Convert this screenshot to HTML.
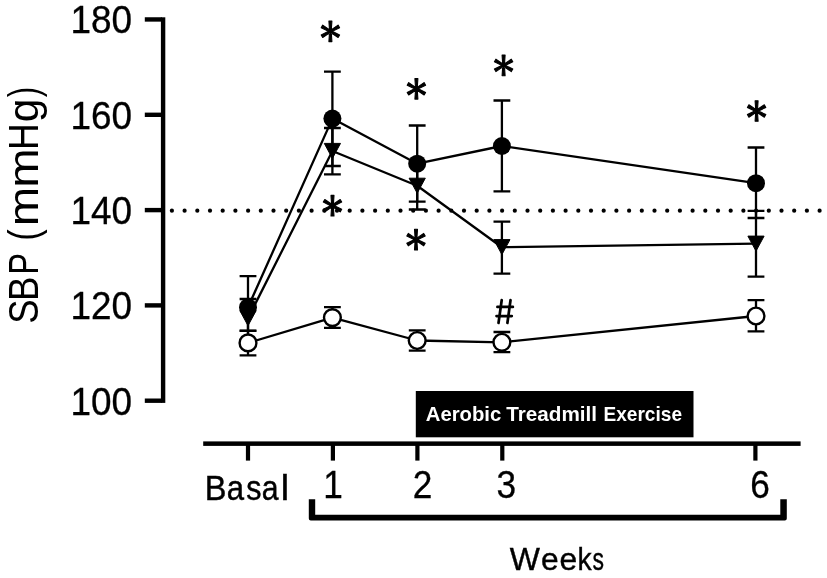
<!DOCTYPE html>
<html><head><meta charset="utf-8"><title>SBP chart</title>
<style>html,body{margin:0;padding:0;background:#fff;}body{width:827px;height:578px;overflow:hidden;font-family:"Liberation Sans",sans-serif;}svg{display:block;will-change:transform;filter:grayscale(1);}</style>
</head><body>
<svg width="827" height="578" viewBox="0 0 827 578">
<rect x="160.9" y="17.3" width="4.4" height="385.6" fill="#000"/>
<rect x="144.8" y="17.25" width="17" height="4.4" fill="#000"/>
<rect x="144.8" y="112.60" width="17" height="4.4" fill="#000"/>
<rect x="144.8" y="207.90" width="17" height="4.4" fill="#000"/>
<rect x="144.8" y="303.20" width="17" height="4.4" fill="#000"/>
<rect x="144.8" y="398.50" width="17" height="4.4" fill="#000"/>
<rect x="203.2" y="441.4" width="597.4" height="4.5" fill="#000"/>
<rect x="245.9" y="443" width="4.2" height="17.6" fill="#000"/>
<rect x="330.8" y="443" width="4.2" height="17.6" fill="#000"/>
<rect x="415.3" y="443" width="4.2" height="17.6" fill="#000"/>
<rect x="500.2" y="443" width="4.2" height="17.6" fill="#000"/>
<rect x="753.3" y="443" width="4.2" height="17.6" fill="#000"/>
<g fill="#000"><circle cx="171.9" cy="210.7" r="2.1"/><circle cx="184.6" cy="210.7" r="2.1"/><circle cx="197.3" cy="210.7" r="2.1"/><circle cx="210.0" cy="210.7" r="2.1"/><circle cx="222.7" cy="210.7" r="2.1"/><circle cx="235.4" cy="210.7" r="2.1"/><circle cx="248.1" cy="210.7" r="2.1"/><circle cx="260.8" cy="210.7" r="2.1"/><circle cx="273.5" cy="210.7" r="2.1"/><circle cx="286.2" cy="210.7" r="2.1"/><circle cx="298.9" cy="210.7" r="2.1"/><circle cx="311.6" cy="210.7" r="2.1"/><circle cx="324.3" cy="210.7" r="2.1"/><circle cx="337.0" cy="210.7" r="2.1"/><circle cx="349.7" cy="210.7" r="2.1"/><circle cx="362.4" cy="210.7" r="2.1"/><circle cx="375.1" cy="210.7" r="2.1"/><circle cx="387.8" cy="210.7" r="2.1"/><circle cx="400.5" cy="210.7" r="2.1"/><circle cx="413.2" cy="210.7" r="2.1"/><circle cx="425.9" cy="210.7" r="2.1"/><circle cx="438.6" cy="210.7" r="2.1"/><circle cx="451.3" cy="210.7" r="2.1"/><circle cx="464.0" cy="210.7" r="2.1"/><circle cx="476.7" cy="210.7" r="2.1"/><circle cx="489.4" cy="210.7" r="2.1"/><circle cx="502.1" cy="210.7" r="2.1"/><circle cx="514.8" cy="210.7" r="2.1"/><circle cx="527.5" cy="210.7" r="2.1"/><circle cx="540.2" cy="210.7" r="2.1"/><circle cx="552.9" cy="210.7" r="2.1"/><circle cx="565.6" cy="210.7" r="2.1"/><circle cx="578.3" cy="210.7" r="2.1"/><circle cx="591.0" cy="210.7" r="2.1"/><circle cx="603.7" cy="210.7" r="2.1"/><circle cx="616.4" cy="210.7" r="2.1"/><circle cx="629.1" cy="210.7" r="2.1"/><circle cx="641.8" cy="210.7" r="2.1"/><circle cx="654.5" cy="210.7" r="2.1"/><circle cx="667.2" cy="210.7" r="2.1"/><circle cx="679.9" cy="210.7" r="2.1"/><circle cx="692.6" cy="210.7" r="2.1"/><circle cx="705.3" cy="210.7" r="2.1"/><circle cx="718.0" cy="210.7" r="2.1"/><circle cx="730.7" cy="210.7" r="2.1"/><circle cx="743.4" cy="210.7" r="2.1"/><circle cx="756.1" cy="210.7" r="2.1"/><circle cx="768.8" cy="210.7" r="2.1"/><circle cx="781.5" cy="210.7" r="2.1"/><circle cx="794.2" cy="210.7" r="2.1"/><circle cx="806.9" cy="210.7" r="2.1"/><circle cx="819.6" cy="210.7" r="2.1"/></g>
<path d="M248.0 299.0V330.7M239.6 299.0H256.4M239.6 330.7H256.4" stroke="#000" stroke-width="2.3" fill="none"/>
<path d="M332.4 128.0V174.3M324.0 128.0H340.8M324.0 174.3H340.8" stroke="#000" stroke-width="2.3" fill="none"/>
<path d="M417.2 162.0V209.5M408.8 162.0H425.6M408.8 209.5H425.6" stroke="#000" stroke-width="2.3" fill="none"/>
<path d="M501.9 221.6V273.6M493.5 221.6H510.3M493.5 273.6H510.3" stroke="#000" stroke-width="2.3" fill="none"/>
<path d="M756.0 210.8V276.7M747.6 210.8H764.4M747.6 276.7H764.4" stroke="#000" stroke-width="2.3" fill="none"/>
<polyline points="248.0,318.3 332.4,151.0 417.2,185.8 501.9,247.2 756.0,243.7" stroke="#000" stroke-width="2.3" fill="none" stroke-linejoin="round"/>
<path d="M239.9 310.7H256.1L248.0 325.7Z" fill="#000" stroke="#000" stroke-width="1" stroke-linejoin="round"/>
<path d="M324.3 143.4H340.5L332.4 158.4Z" fill="#000" stroke="#000" stroke-width="1" stroke-linejoin="round"/>
<path d="M409.1 178.2H425.3L417.2 193.2Z" fill="#000" stroke="#000" stroke-width="1" stroke-linejoin="round"/>
<path d="M493.8 239.6H510.0L501.9 254.6Z" fill="#000" stroke="#000" stroke-width="1" stroke-linejoin="round"/>
<path d="M747.9 236.1H764.1L756.0 251.1Z" fill="#000" stroke="#000" stroke-width="1" stroke-linejoin="round"/>
<path d="M248.0 276.2V340.8M239.6 276.2H256.4M239.6 340.8H256.4" stroke="#000" stroke-width="2.3" fill="none"/>
<path d="M332.4 71.7V166.0M324.0 71.7H340.8M324.0 166.0H340.8" stroke="#000" stroke-width="2.3" fill="none"/>
<path d="M417.2 125.5V201.7M408.8 125.5H425.6M408.8 201.7H425.6" stroke="#000" stroke-width="2.3" fill="none"/>
<path d="M501.9 100.5V191.3M493.5 100.5H510.3M493.5 191.3H510.3" stroke="#000" stroke-width="2.3" fill="none"/>
<path d="M756.0 147.5V218.0M747.6 147.5H764.4M747.6 218.0H764.4" stroke="#000" stroke-width="2.3" fill="none"/>
<polyline points="248.0,307.3 332.4,118.6 417.2,163.7 501.9,146.0 756.0,183.2" stroke="#000" stroke-width="2.3" fill="none" stroke-linejoin="round"/>
<circle cx="248.0" cy="307.3" r="9.0" fill="#000"/>
<circle cx="332.4" cy="118.6" r="9.0" fill="#000"/>
<circle cx="417.2" cy="163.7" r="9.0" fill="#000"/>
<circle cx="501.9" cy="146.0" r="9.0" fill="#000"/>
<circle cx="756.0" cy="183.2" r="9.0" fill="#000"/>
<path d="M248.0 330.9V355.3M239.6 330.9H256.4M239.6 355.3H256.4" stroke="#000" stroke-width="2.3" fill="none"/>
<path d="M332.4 307.2V327.8M324.0 307.2H340.8M324.0 327.8H340.8" stroke="#000" stroke-width="2.3" fill="none"/>
<path d="M417.2 330.4V350.7M408.8 330.4H425.6M408.8 350.7H425.6" stroke="#000" stroke-width="2.3" fill="none"/>
<path d="M501.9 332.0V352.2M493.5 332.0H510.3M493.5 352.2H510.3" stroke="#000" stroke-width="2.3" fill="none"/>
<path d="M756.0 300.2V331.3M747.6 300.2H764.4M747.6 331.3H764.4" stroke="#000" stroke-width="2.3" fill="none"/>
<polyline points="248.0,342.9 332.4,317.6 417.2,340.5 501.9,342.3 756.0,316.0" stroke="#000" stroke-width="2.3" fill="none" stroke-linejoin="round"/>
<circle cx="248.0" cy="342.9" r="8.4" fill="#fff" stroke="#000" stroke-width="2.4"/>
<circle cx="332.4" cy="317.6" r="8.4" fill="#fff" stroke="#000" stroke-width="2.4"/>
<circle cx="417.2" cy="340.5" r="8.4" fill="#fff" stroke="#000" stroke-width="2.4"/>
<circle cx="501.9" cy="342.3" r="8.4" fill="#fff" stroke="#000" stroke-width="2.4"/>
<circle cx="756.0" cy="316.0" r="8.4" fill="#fff" stroke="#000" stroke-width="2.4"/>
<path d="M331.2 31.3L331.9 21.0L328.9 21.0L329.6 31.3ZM329.6 31.3L328.9 41.6L331.9 41.6L331.2 31.3ZM330.8 32.0L339.6 27.7L338.1 25.1L330.0 30.6ZM330.8 30.6L322.7 25.1L321.2 27.7L330.0 32.0ZM330.0 30.6L321.2 34.9L322.7 37.5L330.8 32.0ZM330.0 32.0L338.1 37.5L339.6 34.9L330.8 30.6Z" fill="#000" stroke="#000" stroke-width="1.1" stroke-linejoin="round"/>
<path d="M417.2 88.8L417.9 78.5L414.9 78.5L415.6 88.8ZM415.6 88.8L414.9 99.1L417.9 99.1L417.2 88.8ZM416.8 89.5L425.6 85.2L424.1 82.6L416.0 88.1ZM416.8 88.1L408.7 82.6L407.2 85.2L416.0 89.5ZM416.0 88.1L407.2 92.4L408.7 95.0L416.8 89.5ZM416.0 89.5L424.1 95.0L425.6 92.4L416.8 88.1Z" fill="#000" stroke="#000" stroke-width="1.1" stroke-linejoin="round"/>
<path d="M504.4 65.4L505.1 55.1L502.1 55.1L502.8 65.4ZM502.8 65.4L502.1 75.7L505.1 75.7L504.4 65.4ZM504.0 66.1L512.8 61.8L511.3 59.2L503.2 64.7ZM504.0 64.7L495.9 59.2L494.4 61.8L503.2 66.1ZM503.2 64.7L494.4 69.0L495.9 71.6L504.0 66.1ZM503.2 66.1L511.3 71.6L512.8 69.0L504.0 64.7Z" fill="#000" stroke="#000" stroke-width="1.1" stroke-linejoin="round"/>
<path d="M757.4 111.0L758.1 100.7L755.1 100.7L755.8 111.0ZM755.8 111.0L755.1 121.3L758.1 121.3L757.4 111.0ZM757.0 111.7L765.8 107.4L764.3 104.8L756.2 110.3ZM757.0 110.3L748.9 104.8L747.4 107.4L756.2 111.7ZM756.2 110.3L747.4 114.6L748.9 117.2L757.0 111.7ZM756.2 111.7L764.3 117.2L765.8 114.6L757.0 110.3Z" fill="#000" stroke="#000" stroke-width="1.1" stroke-linejoin="round"/>
<path d="M333.3 205.7L334.0 195.4L331.0 195.4L331.7 205.7ZM331.7 205.7L331.0 216.0L334.0 216.0L333.3 205.7ZM332.9 206.4L341.7 202.1L340.2 199.5L332.1 205.0ZM332.9 205.0L324.8 199.5L323.3 202.1L332.1 206.4ZM332.1 205.0L323.3 209.3L324.8 211.9L332.9 206.4ZM332.1 206.4L340.2 211.9L341.7 209.3L332.9 205.0Z" fill="#000" stroke="#000" stroke-width="1.1" stroke-linejoin="round"/>
<path d="M416.8 239.6L417.5 229.3L414.5 229.3L415.2 239.6ZM415.2 239.6L414.5 249.9L417.5 249.9L416.8 239.6ZM416.4 240.3L425.2 236.0L423.7 233.4L415.6 238.9ZM416.4 238.9L408.3 233.4L406.8 236.0L415.6 240.3ZM415.6 238.9L406.8 243.2L408.3 245.8L416.4 240.3ZM415.6 240.3L423.7 245.8L425.2 243.2L416.4 238.9Z" fill="#000" stroke="#000" stroke-width="1.1" stroke-linejoin="round"/>
<rect x="415.8" y="391" width="277.7" height="46.3" fill="#000"/>
<text y="421.2" font-family="Liberation Sans, sans-serif" font-weight="bold" font-size="19.7" fill="#fff"><tspan x="425.8" textLength="75.5" lengthAdjust="spacingAndGlyphs">Aerobic</tspan> <tspan x="506.3" textLength="90.8" lengthAdjust="spacingAndGlyphs">Treadmill</tspan> <tspan x="603.5" textLength="78.5" lengthAdjust="spacingAndGlyphs">Exercise</tspan></text>
<text x="132.0" y="33.4" font-family="Liberation Sans, sans-serif" font-size="38" stroke="#000" stroke-width="0.3" text-anchor="end" textLength="61.6" lengthAdjust="spacingAndGlyphs">180</text>
<text x="132.0" y="128.7" font-family="Liberation Sans, sans-serif" font-size="38" stroke="#000" stroke-width="0.3" text-anchor="end" textLength="61.6" lengthAdjust="spacingAndGlyphs">160</text>
<text x="132.0" y="224.0" font-family="Liberation Sans, sans-serif" font-size="38" stroke="#000" stroke-width="0.3" text-anchor="end" textLength="61.6" lengthAdjust="spacingAndGlyphs">140</text>
<text x="132.0" y="319.3" font-family="Liberation Sans, sans-serif" font-size="38" stroke="#000" stroke-width="0.3" text-anchor="end" textLength="61.6" lengthAdjust="spacingAndGlyphs">120</text>
<text x="132.0" y="414.6" font-family="Liberation Sans, sans-serif" font-size="38" stroke="#000" stroke-width="0.3" text-anchor="end" textLength="61.6" lengthAdjust="spacingAndGlyphs">100</text>
<g transform="translate(0 499.8)" font-family="Liberation Sans, sans-serif" font-size="35.3" stroke="#000" stroke-width="0.45"><text y="0" xml:space="preserve"><tspan x="204.83" textLength="21.68" lengthAdjust="spacingAndGlyphs">B</tspan><tspan x="226.78" textLength="17.32" lengthAdjust="spacingAndGlyphs">a</tspan><tspan x="246.35" textLength="15.25" lengthAdjust="spacingAndGlyphs">s</tspan><tspan x="261.82" textLength="16.78" lengthAdjust="spacingAndGlyphs">a</tspan><tspan x="280.67" textLength="8.34" lengthAdjust="spacingAndGlyphs">l</tspan></text></g>
<text x="333.0" y="498.3" font-family="Liberation Sans, sans-serif" font-size="38" stroke="#000" stroke-width="0.3" text-anchor="middle" textLength="19.6" lengthAdjust="spacingAndGlyphs">1</text>
<text x="422.6" y="498.3" font-family="Liberation Sans, sans-serif" font-size="38" stroke="#000" stroke-width="0.3" text-anchor="middle" textLength="19.6" lengthAdjust="spacingAndGlyphs">2</text>
<text x="506.4" y="498.3" font-family="Liberation Sans, sans-serif" font-size="38" stroke="#000" stroke-width="0.3" text-anchor="middle" textLength="19.6" lengthAdjust="spacingAndGlyphs">3</text>
<text x="760.0" y="498.3" font-family="Liberation Sans, sans-serif" font-size="38" stroke="#000" stroke-width="0.3" text-anchor="middle" textLength="19.6" lengthAdjust="spacingAndGlyphs">6</text>
<g transform="translate(0 570.4)" font-family="Liberation Sans, sans-serif" font-size="31" stroke="#000" stroke-width="0.4"><text y="0" xml:space="preserve"><tspan x="509.86" textLength="30.15" lengthAdjust="spacingAndGlyphs">W</tspan><tspan x="540.95" textLength="17.66" lengthAdjust="spacingAndGlyphs">e</tspan><tspan x="559.55" textLength="17.66" lengthAdjust="spacingAndGlyphs">e</tspan><tspan x="577.59" textLength="14.17" lengthAdjust="spacingAndGlyphs">k</tspan><tspan x="592.46" textLength="11.47" lengthAdjust="spacingAndGlyphs">s</tspan></text></g>
<path d="M501.7 300.2L498.5 323M510.5 300.2L507.4 323M497.4 306.9H512.9M496.5 316.1H511.8" stroke="#000" stroke-width="2.7" stroke-linecap="round" fill="none"/>
<g transform="translate(38 323) rotate(-90)" font-family="Liberation Sans, sans-serif" font-size="43"><text y="0" xml:space="preserve"><tspan x="-0.66" textLength="24.33" lengthAdjust="spacingAndGlyphs">S</tspan><tspan x="21.99" textLength="24.44" lengthAdjust="spacingAndGlyphs">B</tspan><tspan x="48.32" textLength="21.81" lengthAdjust="spacingAndGlyphs">P</tspan><tspan x="72.00"> </tspan><tspan x="82.27" textLength="11.43" lengthAdjust="spacingAndGlyphs">(</tspan><tspan x="96.85" textLength="39.47" lengthAdjust="spacingAndGlyphs">m</tspan><tspan x="135.25" textLength="39.47" lengthAdjust="spacingAndGlyphs">m</tspan><tspan x="172.95" textLength="26.89" lengthAdjust="spacingAndGlyphs">H</tspan><tspan x="200.71" textLength="23.74" lengthAdjust="spacingAndGlyphs">g</tspan><tspan x="225.72" textLength="10.42" lengthAdjust="spacingAndGlyphs">)</tspan></text></g>
<path d="M308.8 499.3H315.2V514.8H780.3V499.3H786.8V518.6Q786.8 520.6 784.8 520.6H310.8Q308.8 520.6 308.8 518.6Z" fill="#000"/>
</svg>
</body></html>
